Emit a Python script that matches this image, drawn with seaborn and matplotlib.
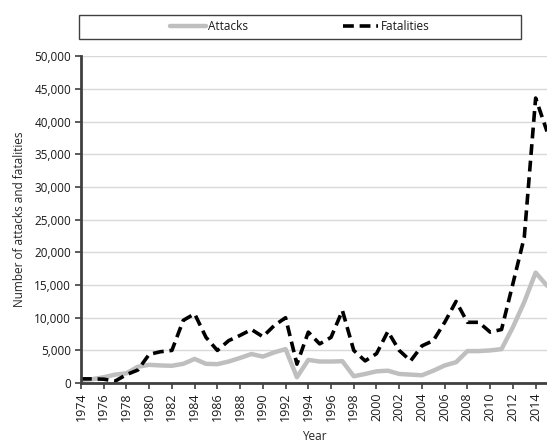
import numpy as np
import pandas as pd
import seaborn as sns
import matplotlib.pyplot as plt
from matplotlib.patches import Rectangle
from matplotlib.ticker import FuncFormatter, MultipleLocator

years = list(range(1974, 2016))
attacks = [500, 600, 900, 1300, 1500, 2500, 2800, 2700, 2650, 2950,
           3700, 2950, 2900, 3300, 3850, 4450, 4050, 4700, 5200, 900,
           3550, 3300, 3300, 3350, 1050, 1400, 1800, 1900, 1400, 1300,
           1200, 1900, 2700, 3200, 4900, 4900, 5000, 5200, 8550, 12400,
           16900, 14900]
fatalities = [650, 650, 600, 300, 1300, 2000, 4400, 4800, 5000, 9600,
              10600, 7000, 5000, 6500, 7300, 8200, 7100, 8800, 10000, 2900,
              7800, 6000, 7000, 11100, 5000, 3400, 4500, 7900, 5000, 3400,
              5700, 6500, 9300, 12500, 9300, 9300, 7800, 8200, 15200, 22300,
              43600, 38500]

df = pd.DataFrame({'Year': years, 'Attacks': attacks, 'Fatalities': fatalities})

sns.set_style('white')
plt.rcParams['font.family'] = ['Open Sans', 'DejaVu Sans']
plt.rcParams['text.color'] = '#1a1a1a'
fs = 8.5

fig = plt.figure(figsize=(5.47, 4.46), dpi=100)
ax = fig.add_axes([0.148, 0.141, 0.852, 0.733])

sns.lineplot(data=df, x='Year', y='Attacks', ax=ax, color='#bfbfbf',
             linewidth=3.2, label='Attacks', legend=False)
sns.lineplot(data=df, x='Year', y='Fatalities', ax=ax, color='black',
             linewidth=2.6, linestyle=(0, (3, 1.6)), label='Fatalities', legend=False)

ax.set_xlim(1974, 2015)
ax.set_ylim(0, 50000)
ax.xaxis.set_major_locator(MultipleLocator(2))
ax.yaxis.set_major_locator(MultipleLocator(5000))
ax.yaxis.set_major_formatter(FuncFormatter(lambda v, p: f'{int(v):,}'))
ax.tick_params(axis='x', labelrotation=90, labelsize=9, length=4, width=1.2,
               color='#404040', labelcolor='#1a1a1a', direction='out', bottom=True, pad=3)
ax.tick_params(axis='y', labelsize=fs, length=4, width=1.2,
               color='#404040', labelcolor='#1a1a1a', direction='out', left=True, pad=3)

ax.grid(axis='y', color='#d9d9d9', linewidth=1)
ax.set_axisbelow(True)
for s in ['top', 'right']:
    ax.spines[s].set_visible(False)
for s in ['left', 'bottom']:
    ax.spines[s].set_color('#404040')
    ax.spines[s].set_linewidth(2)

ax.set_xlabel('Year', fontsize=fs, labelpad=6)
ax.set_ylabel('Number of attacks and fatalities', fontsize=fs, labelpad=6)

# legend box across the top
fig.patches.append(Rectangle((0.144, 0.913), 0.808, 0.053, transform=fig.transFigure,
                             fill=False, edgecolor='#404040', linewidth=1))
handles, labels = ax.get_legend_handles_labels()
fig.legend(handles, labels, loc='center', bbox_to_anchor=(0.548, 0.94), ncol=2,
           frameon=False, fontsize=fs, handlelength=3, columnspacing=8,
           handletextpad=0.2)

fig.savefig('out.png', dpi=100)
